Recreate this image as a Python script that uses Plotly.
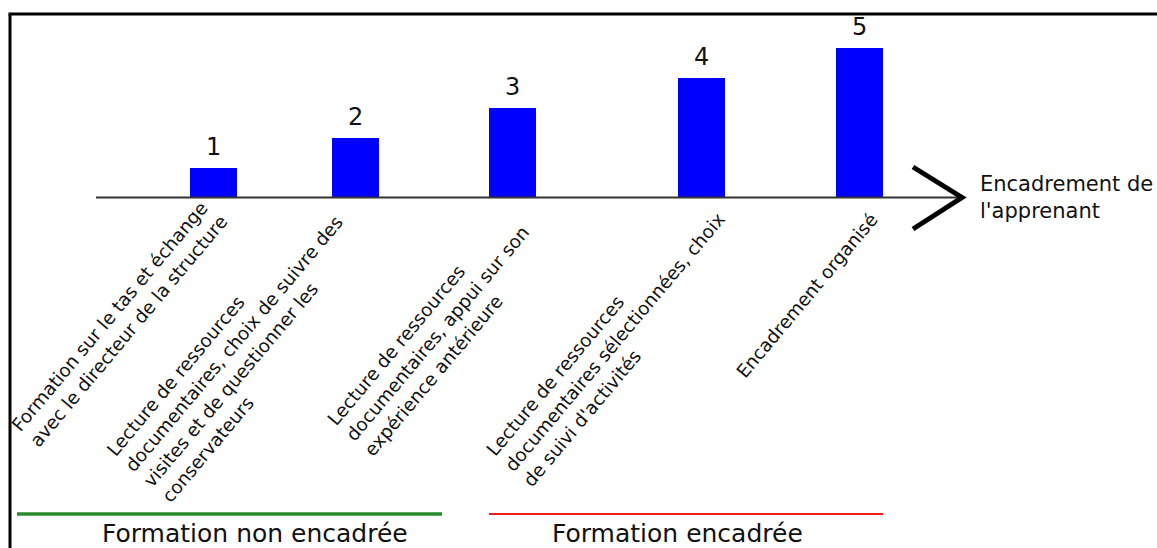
import plotly.graph_objects as go

# ---------------- data ----------------
categories = [
    "Formation sur le tas et échange<br>avec le directeur de la structure",
    "Lecture de ressources<br>documentaires, choix de suivre des<br>visites et de questionner les<br>conservateurs",
    "Lecture de ressources<br>documentaires, appui sur son<br>expérience antérieure",
    "Lecture de ressources<br>documentaires sélectionnées, choix<br>de suivi d'activités",
    "Encadrement organisé",
]
values = [1, 2, 3, 4, 5]
value_labels = ["1", "2", "3", "4", "5"]
bar_x = [2.133, 3.552, 5.125, 7.015, 8.59]   # positions along the (hidden) x axis
axis_title = "Encadrement de<br>l'apprenant"
group_labels = ["Formation non encadrée", "Formation encadrée"]

# ---------------- layout helpers ----------------
W, H = 1157, 548
BASE_PY = 197.5          # pixel row of the value 0
UNIT_PX = 29.95          # pixels per unit value
FONT = "DejaVu Sans"

def px(x):   # pixel column -> paper
    return x / W

def py(y):   # pixel row -> paper
    return 1 - y / H

# label centre offsets (pixels) relative to each bar foot
label_dx = [-94, -112, -75, -87, -52]
label_dy = [126, 154, 136, 145, 98]

fig = go.Figure()
fig.add_trace(go.Bar(
    x=bar_x, y=values, width=0.47,
    marker=dict(color="#0000ff", line=dict(width=0)),
    hoverinfo="skip", showlegend=False,
))

annotations = []
for xv, v, t in zip(bar_x, values, value_labels):
    annotations.append(dict(x=xv, y=v, xref="x", yref="y", text=t, showarrow=False,
                            xanchor="center", yanchor="bottom", yshift=5,
                            font=dict(family=FONT, size=24, color="#111")))
for xv, c, dx, dy in zip(bar_x, categories, label_dx, label_dy):
    annotations.append(dict(x=xv, y=0, xref="x", yref="y", text=c, showarrow=False,
                            textangle=-50, align="left",
                            xanchor="center", yanchor="middle", xshift=dx, yshift=-dy,
                            font=dict(family=FONT, size=18.4, color="#111")))
annotations.append(dict(x=px(978), y=0, xref="paper", yref="y", text=axis_title,
                        showarrow=False, xanchor="left", yanchor="middle", align="left",
                        font=dict(family=FONT, size=21, color="#111")))
annotations.append(dict(x=px(100), y=py(516.5), xref="paper", yref="paper", text=group_labels[0],
                        showarrow=False, xanchor="left", yanchor="top",
                        font=dict(family=FONT, size=25, color="#111")))
annotations.append(dict(x=px(550), y=py(516.5), xref="paper", yref="paper", text=group_labels[1],
                        showarrow=False, xanchor="left", yanchor="top",
                        font=dict(family=FONT, size=25, color="#111")))

shapes = [
    # baseline
    dict(type="line", xref="paper", yref="y", x0=px(96), x1=px(963), y0=0, y1=0,
         line=dict(color="#333333", width=2)),
    # arrow head
    dict(type="path", xref="paper", yref="paper",
         path=f"M {px(913)} {py(167)} L {px(962)} {py(197.5)} L {px(913)} {py(229)}",
         line=dict(color="#000000", width=5)),
    # frame (left and top)
    dict(type="line", xref="paper", yref="paper", x0=px(10), x1=px(10), y0=py(14), y1=py(560),
         line=dict(color="#000000", width=3)),
    dict(type="line", xref="paper", yref="paper", x0=px(8.5), x1=px(1170), y0=py(14), y1=py(14),
         line=dict(color="#000000", width=3)),
    # group lines
    dict(type="line", xref="paper", yref="paper", x0=px(17), x1=px(442), y0=py(514), y1=py(514),
         line=dict(color="#2a8a2f", width=3.5)),
    dict(type="line", xref="paper", yref="paper", x0=px(489), x1=px(883), y0=py(514), y1=py(514),
         line=dict(color="#ee1c1c", width=2)),
]

fig.update_layout(
    width=W, height=H,
    margin=dict(l=0, r=0, t=0, b=0, pad=0),
    paper_bgcolor="white", plot_bgcolor="white",
    xaxis=dict(range=[0, W / 100], visible=False, fixedrange=True),
    yaxis=dict(range=[-(H - BASE_PY) / UNIT_PX, BASE_PY / UNIT_PX], visible=False, fixedrange=True),
    annotations=annotations, shapes=shapes,
    bargap=0,
)

fig.write_html("out.html", config={"displayModeBar": False},
               post_script="document.body.style.margin='0';")
